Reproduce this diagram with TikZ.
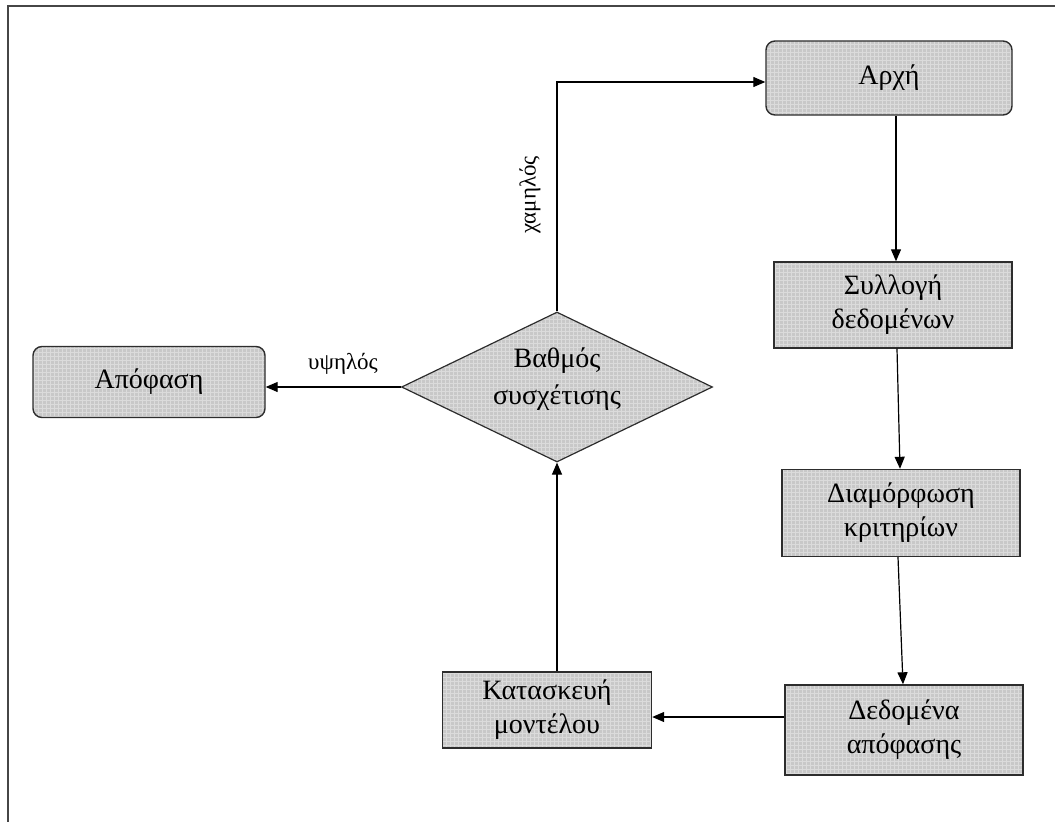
\documentclass[tikz,border=0pt]{standalone}
\usepackage{fontspec}
\setmainfont{Liberation Serif}
\usetikzlibrary{shapes.geometric,arrows.meta}
\definecolor{boxfill}{RGB}{200,200,200}
\definecolor{boxline}{RGB}{45,45,45}
\definecolor{framecol}{RGB}{70,70,70}
\tikzset{
  gridfill/.style={
    fill=boxfill,
    path picture={
      \draw[white, opacity=0.35, line width=1pt, step=4pt]
        (path picture bounding box.south west) grid (path picture bounding box.north east);
    }},
  stepbox/.style={draw=boxline, line width=1.4pt, gridfill, inner sep=0pt, align=center,
    font=\fontsize{28}{34}\selectfont},
  roundbox/.style={stepbox, rounded corners=9pt},
  decision/.style={diamond, draw=boxline, line width=1.2pt, gridfill, inner sep=0pt,
    aspect=2.07, minimum width=311pt, minimum height=150pt},
  decisiontext/.style={inner sep=0pt, align=center, font=\fontsize{28}{37}\selectfont},
  flow/.style={draw=black, line width=1.2pt, -{Triangle[length=12pt,width=10pt]}},
  lbl/.style={font=\fontsize{23}{27}\selectfont, inner sep=0pt}
}
\begin{document}
\begin{tikzpicture}[x=1pt,y=-1pt]
  \useasboundingbox (0,0) rectangle (1055,822);
  % page frame
  \draw[framecol, line width=2pt] (8,830) -- (8,6) -- (1060,6);

  % boxes
  \node[roundbox, minimum width=246pt, minimum height=74pt] (start) at (889,78) {Αρχή};
  \node[stepbox, minimum width=238pt, minimum height=86pt] (collect) at (893,305) {Συλλογή\\δεδομένων};
  \node[stepbox, minimum width=238pt, minimum height=87pt] (criteria) at (901,513) {Διαμόρφωση\\κριτηρίων};
  \node[stepbox, minimum width=238pt, minimum height=90pt] (data) at (904,730) {Δεδομένα\\απόφασης};
  \node[stepbox, minimum width=209pt, minimum height=76pt] (model) at (547,710) {Κατασκευή\\μοντέλου};
  \node[roundbox, minimum width=232pt, minimum height=71pt] (decision) at (149,382) {Απόφαση};
  \node[decision] (grade) at (557,387) {};
  \node[decisiontext] (gradetext) at ([yshift=8pt]grade.center) {Βαθμός\\συσχέτισης};

  % connectors
  \coordinate (c1) at (896,0);
  \draw[flow] (start.south -| c1) -- (collect.north -| c1);
  \draw[flow] ([xshift=4pt]collect.south) -- ([xshift=-1pt]criteria.north);
  \draw[flow] ([xshift=-3pt]criteria.south) -- ([xshift=-1pt]data.north);
  \draw[flow] (data.west |- 0,717) -- (model.east |- 0,717);
  \draw[flow] (model.north -| grade.south) -- (grade.south);
  \draw[flow] (grade.west) -- (decision.east |- grade.west);
  \coordinate (bend) at (557,82);
  \draw[flow] (grade.north) -- (bend) -- (start.west |- bend);

  % branch labels
  \node[lbl] (high) at (343,364) {υψηλός};
  \node[lbl, rotate=90] (low) at (530,195) {χαμηλός};
\end{tikzpicture}
\end{document}
